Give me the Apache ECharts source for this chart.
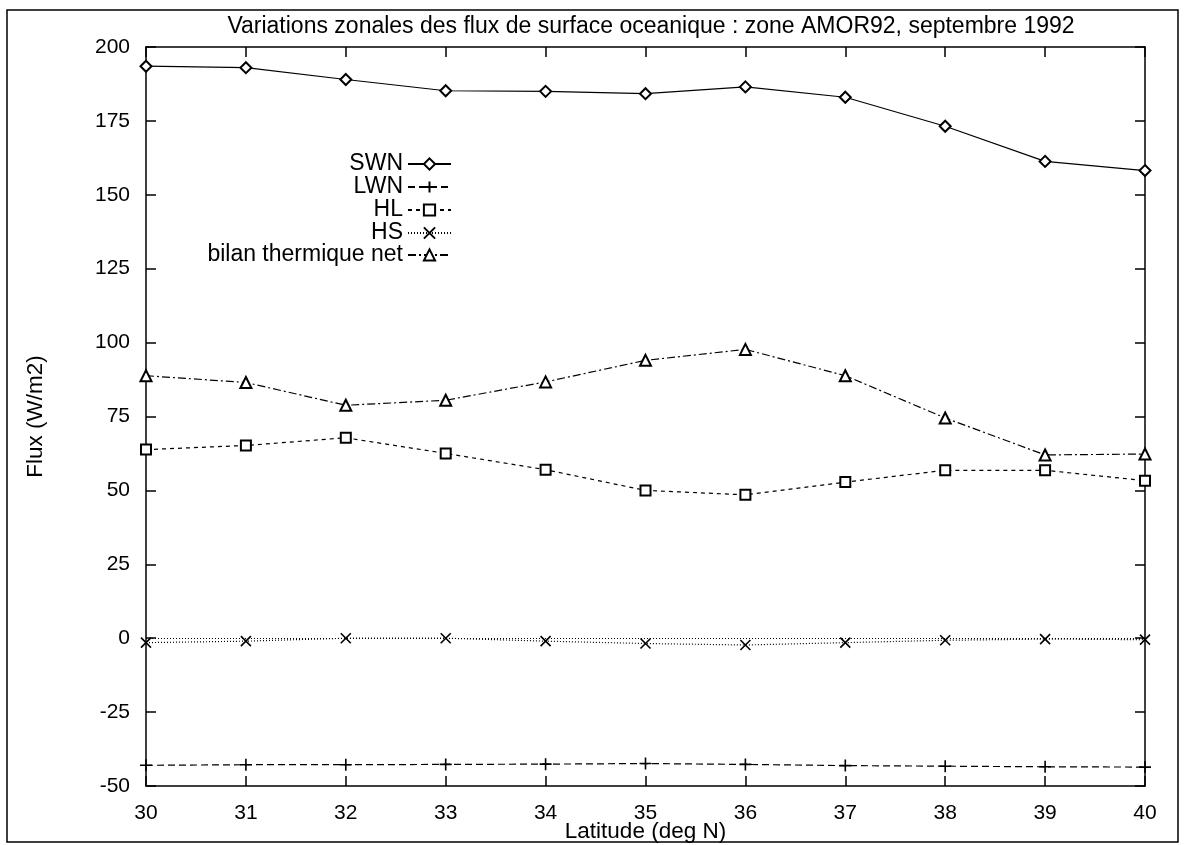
<!DOCTYPE html>
<html lang="fr">
<head>
  <meta charset="UTF-8">
  <title>Flux de surface oceanique</title>
  <style>
    html, body { margin: 0; padding: 0; background: #fff; }
    #chart { width: 1184px; height: 845px; }
  </style>
  <script src="https://cdn.jsdelivr.net/npm/echarts@6/dist/echarts.min.js"></script>
</head>
<body>
  <div id="chart"></div>
  <script>
    // latitudes (deg N)
    var lat = [30, 31, 32, 33, 34, 35, 36, 37, 38, 39, 40];
    // flux (W/m2)
    var swn = [193.5, 193, 189, 185.2, 185, 184.2, 186.5, 183, 173.2, 161.3, 158.2];
    var lwn = [-43, -42.8, -42.8, -42.7, -42.6, -42.4, -42.7, -43.1, -43.3, -43.5, -43.6];
    var hl = [63.8, 65.2, 67.8, 62.5, 57, 50, 48.5, 52.8, 56.8, 56.8, 53.3];
    var hs = [-1.5, -1, 0, 0, -1, -1.8, -2.3, -1.5, -0.7, -0.3, -0.5];
    var bilan = [88.8, 86.5, 78.8, 80.5, 86.7, 94, 97.7, 88.8, 74.5, 62, 62.3];
    var yTicks = [-50, -25, 0, 25, 50, 75, 100, 125, 150, 175, 200];

    var font = '"Liberation Sans", Arial, Helvetica, sans-serif';

    function pairs(vals) {
      return lat.map(function (x, i) { return [x, vals[i]]; });
    }

    var plusPath = 'path://M6,0L6,12M0,6L12,6';
    var crossPath = 'path://M0,0L12,12M12,0L0,12';

    var seriesDefs = [
      { name: 'SWN', data: swn, dash: 'solid', symbol: 'emptyDiamond', size: 11 },
      { name: 'LWN', data: lwn, dash: [7, 4], symbol: plusPath, size: 12, stroke: true },
      { name: 'HL', data: hl, dash: [4, 4], symbol: 'emptyRect', size: 10 },
      { name: 'HS', data: hs, dash: [1, 2], symbol: crossPath, size: 10, stroke: true },
      { name: 'bilan thermique net', data: bilan, dash: [8, 3, 2, 3], symbol: 'emptyTriangle', size: 11 }
    ];

    var series = seriesDefs.map(function (d) {
      var s = {
        name: d.name,
        type: 'line',
        data: pairs(d.data),
        symbol: d.symbol,
        symbolSize: d.size,
        showAllSymbol: true,
        animation: false,
        lineStyle: { color: '#000', width: 1.2, type: d.dash },
        itemStyle: d.stroke
          ? { color: 'none', borderColor: '#000', borderWidth: 1.6 }
          : { color: '#000', borderColor: '#000', borderWidth: 1.4 }
      };
      if (d.name === 'HS') {
        // axe zero pointille
        s.markLine = {
          silent: true,
          symbol: 'none',
          label: { show: false },
          lineStyle: { color: '#000', width: 1, type: [1, 2] },
          data: [{ yAxis: 0 }]
        };
      }
      return s;
    });

    // une legende par serie, icones alignees a droite
    var legendTop = [152, 175, 198, 221, 243];
    var legends = seriesDefs.map(function (d, i) {
      return {
        data: [d.name],
        orient: 'vertical',
        align: 'right',
        right: 732,
        top: legendTop[i],
        padding: 0,
        itemWidth: 43,
        itemHeight: 14,
        itemGap: 12,
        selectedMode: false,
        textStyle: { fontSize: 23, color: '#000', fontFamily: font, lineHeight: 24 }
      };
    });

    var axisLine = { show: true, onZero: false, lineStyle: { color: '#000', width: 1.5 } };
    var axisTick = { show: true, inside: true, length: 10, lineStyle: { color: '#000', width: 1.5 } };

    var chart = echarts.init(document.getElementById('chart'));
    chart.setOption({
      backgroundColor: '#fff',
      textStyle: { fontFamily: font },
      animation: false,
      title: {
        text: 'Variations zonales des flux de surface oceanique : zone AMOR92, septembre 1992',
        left: 646,
        textAlign: 'center',
        top: 10,
        textStyle: { fontSize: 23, fontWeight: 'normal', color: '#000', fontFamily: font }
      },
      legend: legends,
      grid: { left: 146, right: 39, top: 47, bottom: 59, containLabel: false, outerBoundsMode: 'none' },
      xAxis: [{
        type: 'value',
        position: 'bottom',
        min: 30,
        max: 40,
        interval: 1,
        axisLine: axisLine,
        axisTick: axisTick,
        splitLine: { show: false },
        axisLabel: { fontSize: 21, color: '#000', margin: 17, fontFamily: font },
        name: 'Latitude (deg N)',
        nameLocation: 'middle',
        nameGap: 34,
        nameMoveOverlap: false,
        nameTextStyle: { fontSize: 22.5, color: '#000', fontFamily: font }
      }, {
        type: 'value',
        position: 'top',
        min: 30,
        max: 40,
        interval: 1,
        axisLine: axisLine,
        axisTick: axisTick,
        splitLine: { show: false },
        axisLabel: { show: false }
      }],
      yAxis: [{
        type: 'value',
        position: 'left',
        min: yTicks[0],
        max: yTicks[yTicks.length - 1],
        interval: 25,
        axisLine: axisLine,
        axisTick: axisTick,
        splitLine: { show: false },
        axisLabel: { fontSize: 21, color: '#000', margin: 16, fontFamily: font },
        name: 'Flux (W/m2)',
        nameLocation: 'middle',
        nameGap: 99,
        nameMoveOverlap: false,
        nameTextStyle: { fontSize: 22.5, color: '#000', fontFamily: font }
      }, {
        type: 'value',
        position: 'right',
        min: yTicks[0],
        max: yTicks[yTicks.length - 1],
        interval: 25,
        axisLine: axisLine,
        axisTick: axisTick,
        splitLine: { show: false },
        axisLabel: { show: false }
      }],
      graphic: [{
        type: 'rect',
        silent: true,
        shape: { x: 7, y: 10, width: 1171, height: 832 },
        style: { fill: 'none', stroke: '#000', lineWidth: 1.5 }
      }],
      series: series
    });
  </script>
</body>
</html>
